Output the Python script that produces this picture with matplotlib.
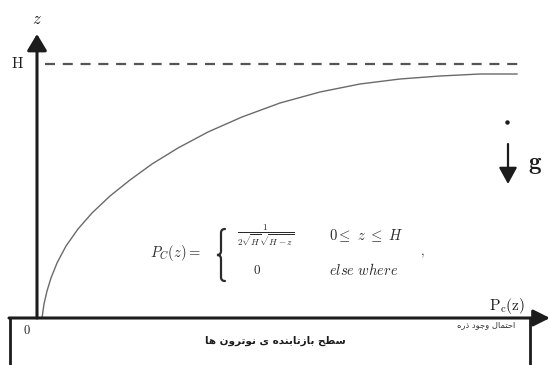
import matplotlib
matplotlib.use("Agg")
import matplotlib.pyplot as plt
from matplotlib.path import Path
from matplotlib.patches import PathPatch

plt.rcParams['mathtext.fontset'] = 'cm'

# Curve of the cumulative probability, traced as (x, z) points in canvas units
curve_x = [42, 44, 47, 51, 57, 66, 78, 92, 110, 130, 152, 178, 208, 242, 280, 320, 360, 400, 440, 480, 517]
curve_y = [318, 304, 291, 278, 263, 246, 229, 213, 196, 180, 164, 148, 132, 117, 103, 92, 84, 79, 76, 74, 74]

h_level = 64          # height of the H dashed line
axis_x0 = 37          # position of the vertical z axis
axis_y0 = 318         # position of the horizontal axis / reflecting surface

surface_label = "سطح بازتابنده ی نوترون ها"
prob_label = "احتمال وجود ذره"

# --- minimal Arabic-script shaping (presentation forms, visual order) ---
FORMS = {
    'ا': ('\uFE8D', '\uFE8E', None, None),
    'ب': ('\uFE8F', '\uFE90', '\uFE91', '\uFE92'),
    'ت': ('\uFE95', '\uFE96', '\uFE97', '\uFE98'),
    'ج': ('\uFE9D', '\uFE9E', '\uFE9F', '\uFEA0'),
    'ح': ('\uFEA1', '\uFEA2', '\uFEA3', '\uFEA4'),
    'د': ('\uFEA9', '\uFEAA', None, None),
    'ذ': ('\uFEAB', '\uFEAC', None, None),
    'ر': ('\uFEAD', '\uFEAE', None, None),
    'ز': ('\uFEAF', '\uFEB0', None, None),
    'س': ('\uFEB1', '\uFEB2', '\uFEB3', '\uFEB4'),
    'ط': ('\uFEC1', '\uFEC2', '\uFEC3', '\uFEC4'),
    'ل': ('\uFEDD', '\uFEDE', '\uFEDF', '\uFEE0'),
    'م': ('\uFEE1', '\uFEE2', '\uFEE3', '\uFEE4'),
    'ن': ('\uFEE5', '\uFEE6', '\uFEE7', '\uFEE8'),
    'ه': ('\uFEE9', '\uFEEA', '\uFEEB', '\uFEEC'),
    'و': ('\uFEED', '\uFEEE', None, None),
    'ی': ('\uFEEF', '\uFEF0', '\uFEF3', '\uFEF4'),
}


def shape(text):
    out = []
    for i, ch in enumerate(text):
        if ch not in FORMS:
            out.append(ch)
            continue
        iso, fin, ini, med = FORMS[ch]
        prev = text[i - 1] if i > 0 else ''
        nxt = text[i + 1] if i + 1 < len(text) else ''
        joins_prev = prev in FORMS and FORMS[prev][2] is not None
        joins_next = ini is not None and nxt in FORMS
        if joins_prev and joins_next:
            out.append(med)
        elif joins_prev:
            out.append(fin)
        elif joins_next:
            out.append(ini)
        else:
            out.append(iso)
    return ''.join(reversed(out))


def brace_path(xc, top, bottom, w=5):
    """Thin left curly brace centred on x = xc, spanning top..bottom."""
    mid = (top + bottom) / 2
    verts = [(xc + w, top), (xc, top), (xc, top + w),
             (xc, mid - w),
             (xc, mid), (xc - w, mid),
             (xc, mid), (xc, mid + w),
             (xc, bottom - w),
             (xc, bottom), (xc + w, bottom)]
    codes = [Path.MOVETO, Path.CURVE3, Path.CURVE3,
             Path.LINETO,
             Path.CURVE3, Path.CURVE3,
             Path.CURVE3, Path.CURVE3,
             Path.LINETO,
             Path.CURVE3, Path.CURVE3]
    return Path(verts, codes)


fig = plt.figure(figsize=(5.5, 3.65), dpi=100)
ax = fig.add_axes([0, 0, 1, 1])
ax.set_xlim(0, 550)
ax.set_ylim(365, 0)
ax.axis('off')

dark = '#1c1c1c'

# reflecting surface box
ax.plot([10, 10], [axis_y0, 365], color=dark, lw=2.0, solid_capstyle='butt')
ax.plot([530, 530], [axis_y0, 365], color=dark, lw=2.0, solid_capstyle='butt')

# axes with arrow heads
ax.annotate('', xy=(550, axis_y0), xytext=(9, axis_y0),
            arrowprops=dict(arrowstyle='-|>,head_length=1.0,head_width=0.5',
                            lw=2.2, color=dark, shrinkA=0, shrinkB=0,
                            mutation_scale=10))
ax.annotate('', xy=(axis_x0, 34), xytext=(axis_x0, axis_y0),
            arrowprops=dict(arrowstyle='-|>,head_length=1.0,head_width=0.6',
                            lw=2.2, color=dark, shrinkA=0, shrinkB=0,
                            mutation_scale=10))

# H level
ax.plot([45, 520], [h_level, h_level], color='#555555', lw=1.6,
        dashes=(4.5, 3.5))

# probability curve
ax.plot(curve_x, curve_y, color='#6a6a6a', lw=1.0)

# gravity arrow
ax.plot([507], [122], marker='o', ms=2.2, color=dark)
ax.annotate('', xy=(508, 184), xytext=(508, 144),
            arrowprops=dict(arrowstyle='-|>,head_length=1.0,head_width=0.55',
                            lw=1.6, color=dark, shrinkA=0, shrinkB=0,
                            mutation_scale=10))
ax.text(528, 164, r'$\mathbf{g}$', fontsize=18, ha='left', va='center', color=dark)

# axis labels
ax.text(axis_x0, 19, r'$z$', fontsize=12, ha='center', va='center', color=dark)
ax.text(17, h_level, r'$\mathrm{H}$', fontsize=11, ha='center', va='center', color=dark)
ax.text(27, 330, r'$\mathrm{0}$', fontsize=9, ha='center', va='center', color=dark)
ax.text(507, 306, r'$\mathrm{P_c(z)}$', fontsize=11, ha='center', va='center', color=dark)

# formula
fc = '#2a2a2a'
ax.text(150, 253, r'$P_C(z)=$', fontsize=10.5, ha='left', va='center', color=fc)
ax.add_patch(PathPatch(brace_path(221, 229, 281, w=4), fill=False,
                       edgecolor=fc, lw=1.6, capstyle='round'))
ax.text(266, 235, r'$\frac{1}{2\sqrt{H}\sqrt{H-z}}$', fontsize=9.5, ha='center', va='center', color=fc)
ax.text(329, 236, r'$0\leq\ z\ \leq\ H$', fontsize=10.5, ha='left', va='center', color=fc)
ax.text(257, 270, r'$0$', fontsize=9.5, ha='center', va='center', color=fc)
ax.text(329, 270, r'$else\ where$', fontsize=10.5, ha='left', va='center', color=fc)
ax.text(422, 254, r'$,$', fontsize=9, ha='center', va='center', color=fc)

# Persian captions
ax.text(275, 341, shape(surface_label), fontsize=7.5, fontweight='bold',
        family='DejaVu Sans', ha='center', va='center', color=dark)
ax.text(486, 325, shape(prob_label), fontsize=6, family='DejaVu Sans',
        ha='center', va='center', color='#333333')

fig.savefig('out.png', dpi=100)
